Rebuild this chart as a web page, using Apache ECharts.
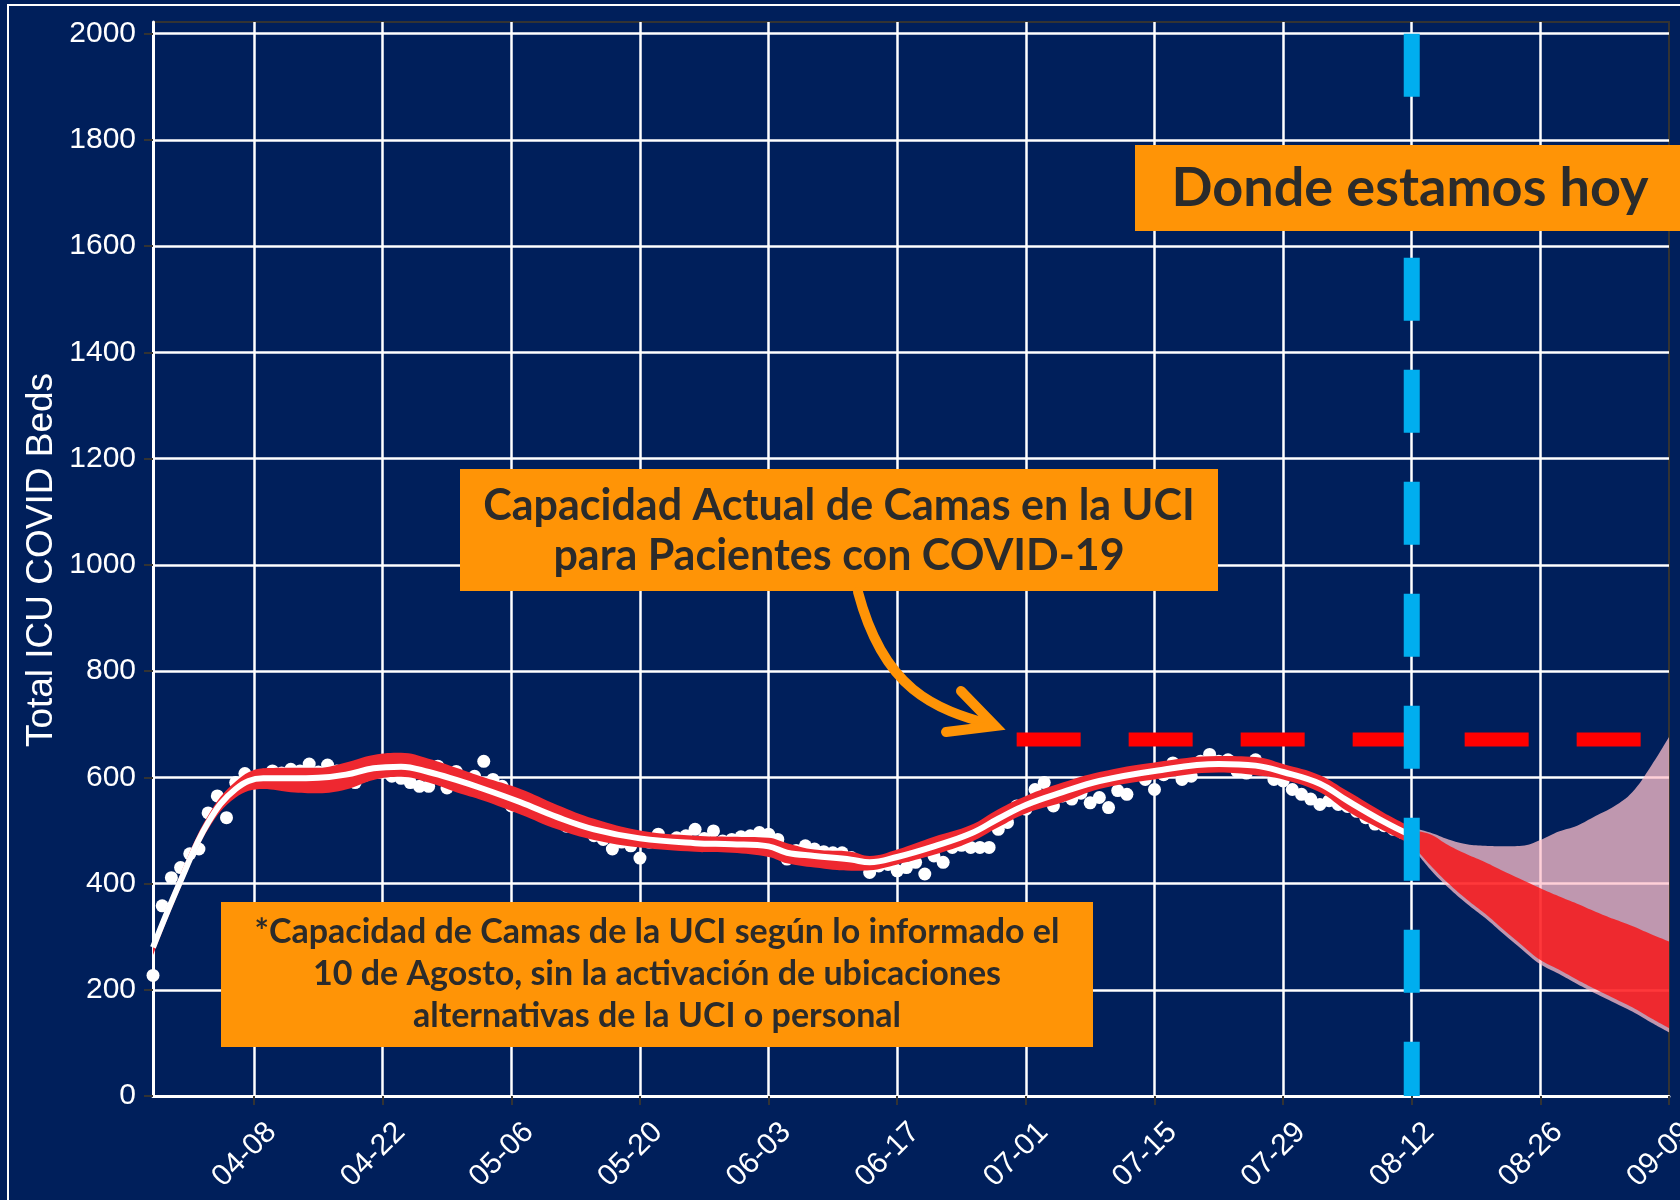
<!DOCTYPE html>
<html>
<head>
<meta charset="utf-8">
<title>Total ICU COVID Beds</title>
<script src="https://cdn.jsdelivr.net/npm/echarts@6/dist/echarts.min.js"></script>
<style>
  html, body { margin: 0; padding: 0; background: #001F5B; }
  #chart { width: 1680px; height: 1200px; }
</style>
</head>
<body>
<div id="chart"></div>
<script>
// ---- data ----
const xTickLabels = ['04-08', '04-22', '05-06', '05-20', '06-03', '06-17', '07-01',
  '07-15', '07-29', '08-12', '08-26', '09-09'];

// daily observed ICU beds, 03-28 .. 08-11
const icuObserved = [
  227, 358, 411, 430, 456, 465, 533, 565, 524, 590,
  607, 598, 604, 612, 608, 615, 612, 625, 610, 623,
  612, 607, 590, 603, 612, 615, 602, 598, 590, 583,
  583, 621, 580, 611, 598, 602, 630, 596, 583, 546,
  555, 548, 536, 527, 520, 508, 515, 505, 490, 483,
  465, 478, 471, 448, 478, 493, 480, 486, 490, 502,
  485, 499, 480, 483, 488, 490, 496, 493, 483, 446,
  462, 471, 465, 460, 458, 458, 449, 440, 421, 433,
  436, 424, 430, 440, 418, 452, 440, 468, 472, 468,
  468, 468, 502, 515, 546, 540, 577, 590, 546, 565,
  559, 570, 552, 562, 543, 575, 568, 605, 596, 577,
  605, 627, 596, 602, 630, 643, 630, 633, 611, 608,
  633, 621, 596, 593, 577, 568, 559, 549, 556, 549,
  545, 536, 524, 512, 509, 502, 496
];

// model fit (white line) and its band
const fitDates = ['03-28', '03-31', '04-03', '04-06', '04-09', '04-12', '04-15', '04-18',
  '04-21', '04-24', '04-27', '04-30', '05-03', '05-07', '05-11', '05-15', '05-20', '05-26',
  '05-30', '06-03', '06-05', '06-08', '06-12', '06-14', '06-17', '06-21', '06-25', '06-28',
  '07-01', '07-05', '07-09', '07-15', '07-22', '07-26', '07-29', '08-02', '08-05', '08-09', '08-12'];
const fitMid = [280, 405, 515, 578, 598, 598, 599, 605, 617, 620, 610, 595, 578, 553, 525, 502,
  485, 476, 474, 470, 458, 452, 445, 440, 450, 470, 494, 522, 548, 572, 593, 612, 625, 622,
  610, 588, 556, 516, 490];
const fitUpper = [290, 418, 528, 592, 617, 618, 618, 628, 642, 646, 635, 618, 600, 578, 548, 522,
  500, 490, 488, 486, 476, 464, 460, 452, 464, 488, 510, 540, 565, 590, 610, 628, 640, 638,
  625, 604, 574, 533, 506];
const fitLower = [265, 392, 502, 562, 578, 572, 570, 577, 595, 601, 590, 572, 556, 530, 502, 482,
  468, 460, 458, 450, 438, 430, 424, 425, 436, 454, 478, 506, 532, 553, 578, 596, 609, 604,
  596, 572, 536, 499, 474];

// projection after 08-12
const fcDates = ['08-12', '08-14', '08-16', '08-18', '08-20', '08-22', '08-24', '08-26',
  '08-28', '08-30', '09-01', '09-03', '09-05', '09-07', '09-09'];
const fcOuterUpper = [505, 496, 483, 474, 471, 470, 471, 482, 498, 509, 527, 545, 572, 620, 676];
const fcInnerUpper = [500, 493, 472, 455, 440, 423, 407, 391, 376, 362, 347, 333, 320, 305, 291];
const fcInnerLower = [474, 435, 400, 370, 343, 313, 284, 256, 238, 219, 201, 184, 167, 147, 128];
const fcOuterLower = [470, 427, 392, 362, 335, 305, 276, 248, 230, 211, 193, 176, 159, 139, 120];

const capacityValue = 671;
const capacityDates = ['06-30', '09-09'];
const todayDate = '08-12';
const todayTop = 2000;

// ---- axis categories: one per day, 03-28 .. 09-09 ----
const days = [];
const startMs = Date.UTC(2020, 2, 28);
for (let i = 0; i < 166; i++) {
  const dt = new Date(startMs + i * 86400000);
  days.push(String(dt.getUTCMonth() + 1).padStart(2, '0') + '-' + String(dt.getUTCDate()).padStart(2, '0'));
}

const NAVY = '#001F5B';
const ORANGE = '#FF9406';
const INK = '#2B2B2B';
const AXIS_FONT = 'Liberation Sans, Arial, sans-serif';

function pairs(dates, vals) {
  return dates.map((d, i) => [d, vals[i]]);
}

// band drawn as a stacked area: invisible base + filled width
function band(name, dates, lower, upper, color) {
  return [
    {
      name: name + '-base', type: 'line', stack: name, smooth: 0.4, symbol: 'none', silent: true,
      data: pairs(dates, lower),
      lineStyle: { opacity: 0 }
    },
    {
      name: name, type: 'line', stack: name, smooth: 0.4, symbol: 'none', silent: true,
      data: pairs(dates, upper.map((u, i) => u - lower[i])),
      lineStyle: { opacity: 0 },
      areaStyle: { color: color, opacity: 1 }
    }
  ];
}

const isTick = (idx, val) => xTickLabels.includes(val);

const chart = echarts.init(document.getElementById('chart'));

const option = {
  animation: false,
  backgroundColor: NAVY,
  grid: {
    left: 153, right: 11, top: 22, bottom: 104,
    outerBoundsMode: 'none', containLabel: false,
    show: true, backgroundColor: NAVY, borderColor: '#333', borderWidth: 2
  },
  xAxis: {
    type: 'category',
    data: days,
    boundaryGap: false,
    axisLine: { lineStyle: { color: '#fff', width: 3 } },
    axisTick: { interval: isTick, length: 9, lineStyle: { color: '#333', width: 2 } },
    axisLabel: {
      interval: isTick, rotate: 45, margin: 14, verticalAlign: 'top', padding: [10, 0, 0, 0],
      color: '#fff', fontSize: 30, fontFamily: AXIS_FONT
    },
    splitLine: {
      show: true,
      interval: (idx, val) => isTick(idx, val) && val !== '09-09',
      lineStyle: { color: '#fff', width: 2.5 }
    }
  },
  yAxis: {
    type: 'value',
    min: 0, max: 2022, interval: 200,
    axisLine: { show: true, lineStyle: { color: '#fff', width: 3 } },
    axisTick: { show: true, length: 9, lineStyle: { color: '#333', width: 2 } },
    axisLabel: {
      showMaxLabel: false, margin: 17,
      formatter: (v) => String(v),
      color: '#fff', fontSize: 30, fontFamily: AXIS_FONT
    },
    splitLine: { show: true, showMaxLine: false, lineStyle: { color: '#fff', width: 2.5 } }
  },
  series: [
    ...band('fitBand', fitDates, fitLower, fitUpper, '#EE2830'),
    ...band('fcOuter', fcDates, fcOuterLower, fcOuterUpper, 'rgba(255,192,203,0.75)'),
    ...band('fcInner', fcDates, fcInnerLower, fcInnerUpper, 'rgba(255,0,0,0.73)'),
    {
      name: 'fit', type: 'line', smooth: 0.4, symbol: 'none', silent: true,
      data: pairs(fitDates, fitMid),
      lineStyle: { color: '#fff', width: 6 }
    },
    {
      name: 'observed', type: 'scatter', symbolSize: 13, silent: true,
      data: icuObserved.map((v, i) => [days[i], v]),
      itemStyle: { color: '#fff', opacity: 1 }
    },
    {
      name: 'capacity', type: 'line', symbol: 'none', silent: true,
      data: pairs(capacityDates, [capacityValue, capacityValue]),
      lineStyle: { color: '#FF0000', width: 14, type: [64, 48], cap: 'butt' }
    },
    {
      name: 'today', type: 'line', symbol: 'none', silent: true,
      data: [[todayDate, todayTop], [todayDate, 0]],
      lineStyle: { color: '#00AEEF', width: 16, type: [63, 49], cap: 'butt' }
    }
  ],
  graphic: [
    {
      type: 'rect', z: 200, silent: true,
      shape: { x: 8, y: 5, width: 1700, height: 1300 },
      style: { fill: null, stroke: '#fff', lineWidth: 2 }
    },
    {
      type: 'text', z: 200, x: 42, y: 560, rotation: Math.PI / 2,
      style: {
        text: 'Total ICU COVID Beds', fill: '#fff',
        font: '37px "Liberation Sans", Arial, sans-serif', align: 'center', verticalAlign: 'middle'
      }
    },
    // "Donde estamos hoy"
    {
      type: 'rect', z: 200, shape: { x: 1135, y: 145, width: 560, height: 86 },
      style: { fill: ORANGE }
    },
    {
      type: 'text', z: 201, x: 1410, y: 189,
      style: {
        text: 'Donde estamos hoy', fill: INK, font: 'bold 54px Lato, sans-serif',
        align: 'center', verticalAlign: 'middle'
      }
    },
    // capacity callout
    {
      type: 'rect', z: 200, shape: { x: 460, y: 469, width: 758, height: 122 },
      style: { fill: ORANGE }
    },
    {
      type: 'text', z: 201, x: 839, y: 531,
      style: {
        text: 'Capacidad Actual de Camas en la UCI\npara Pacientes con COVID-19',
        fill: INK, font: 'bold 43px Lato, sans-serif', lineHeight: 50,
        align: 'center', verticalAlign: 'middle'
      }
    },
    {
      type: 'bezierCurve', z: 200,
      shape: { x1: 858, y1: 592, cpx1: 884, cpy1: 690, cpx2: 934, cpy2: 709, x2: 992, y2: 725 },
      style: { stroke: ORANGE, lineWidth: 10, fill: null, lineCap: 'round' }
    },
    {
      type: 'polyline', z: 200,
      shape: { points: [[961, 691], [995, 726], [946, 732]] },
      style: { stroke: ORANGE, lineWidth: 10, fill: null, lineCap: 'round', lineJoin: 'miter' }
    },
    // footnote
    {
      type: 'rect', z: 200, shape: { x: 221, y: 902, width: 872, height: 145 },
      style: { fill: ORANGE }
    },
    {
      type: 'text', z: 201, x: 657, y: 974,
      style: {
        text: '*Capacidad de Camas de la UCI según lo informado el\n10 de Agosto, sin la activación de ubicaciones\nalternativas de la UCI o personal',
        fill: INK, font: 'bold 34px Lato, sans-serif', lineHeight: 42,
        align: 'center', verticalAlign: 'middle'
      }
    }
  ]
};

chart.setOption(option);
</script>
</body>
</html>
